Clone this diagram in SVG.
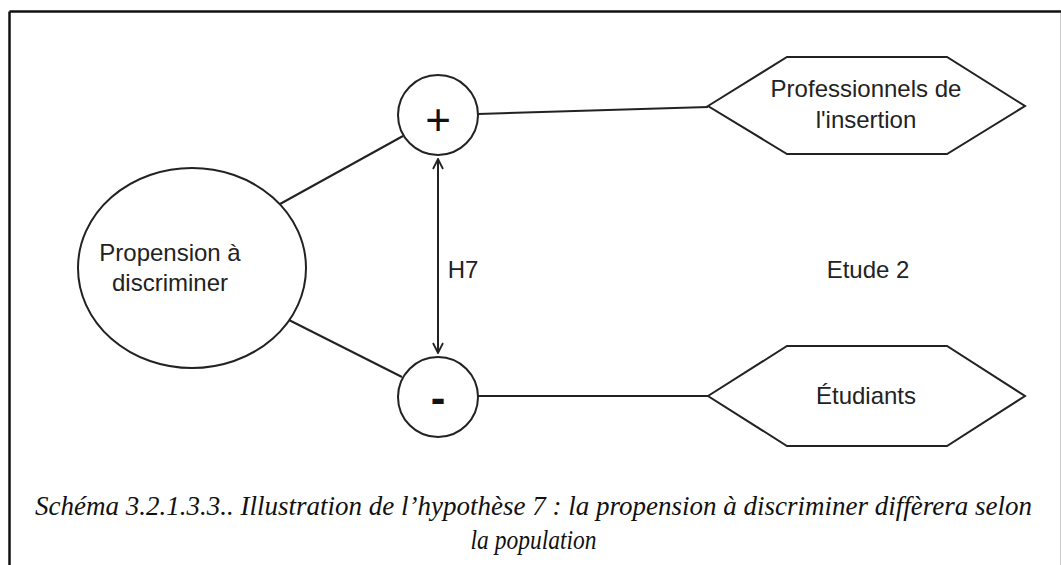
<svg xmlns="http://www.w3.org/2000/svg" width="1061" height="565" viewBox="0 0 1061 565">
<defs>
<style>
.shape{fill:#fff;stroke:#222;stroke-width:2}
.conn{fill:none;stroke:#222;stroke-width:2}
.lbl{font-family:"Liberation Sans",Arial,sans-serif;font-size:24px;fill:#222;text-anchor:middle}
.sign{font-family:"Liberation Sans",Arial,sans-serif;font-size:44px;fill:#111;text-anchor:middle}
.cap{font-family:"Liberation Serif","Times New Roman",serif;font-style:italic;font-size:28px;fill:#111;text-anchor:middle}
</style>
<marker id="open" viewBox="0 0 12 12" refX="11" refY="6" markerWidth="12" markerHeight="12" markerUnits="userSpaceOnUse" orient="auto-start-reverse">
<path d="M1,1 L11,6 L1,11" fill="none" stroke="#222" stroke-width="1.8"/>
</marker>
</defs>
<rect x="0" y="0" width="1061" height="565" fill="#fff"/>
<g id="frame">
<line x1="9.5" y1="11.5" x2="1061" y2="11.5" stroke="#111" stroke-width="2.5"/>
<line x1="9.5" y1="11.5" x2="9.5" y2="565" stroke="#111" stroke-width="2.5"/>
<line x1="1060.5" y1="13" x2="1060.5" y2="565" stroke="#ccc" stroke-width="1"/>
</g>
<g id="connectors">
<line class="conn" x1="280" y1="204" x2="403" y2="136"/>
<line class="conn" x1="285" y1="318" x2="402" y2="377"/>
<line class="conn" x1="478" y1="114" x2="708" y2="107"/>
<line class="conn" x1="478" y1="396" x2="708" y2="396"/>
<line class="conn" x1="438" y1="159" x2="438" y2="353" marker-start="url(#open)" marker-end="url(#open)"/>
<text class="lbl" x="463" y="278">H7</text>
</g>
<g id="propension">
<ellipse class="shape" cx="192" cy="268" rx="114" ry="100"/>
<text class="lbl" x="170" y="261">Propension à</text>
<text class="lbl" x="170" y="291">discriminer</text>
</g>
<g id="plus">
<circle class="shape" cx="438" cy="115" r="40"/>
<text class="sign" x="438" y="135">+</text>
</g>
<g id="minus">
<circle class="shape" cx="438" cy="397" r="40"/>
<text class="sign" x="438" y="413" font-weight="bold">-</text>
</g>
<g id="professionnels">
<polygon class="shape" points="708,106 787,57 947,57 1025,106 947,154 787,154"/>
<text class="lbl" x="866" y="97">Professionnels de</text>
<text class="lbl" x="866" y="128">l'insertion</text>
</g>
<g id="etudiants">
<polygon class="shape" points="708,396 787,346 947,346 1025,396 947,446 787,446"/>
<text class="lbl" x="866" y="404">Étudiants</text>
</g>
<g id="etude2">
<text class="lbl" x="868" y="278">Etude 2</text>
</g>
<g id="caption" transform="translate(533.5,0) scale(0.84,1)">
<text class="cap" x="0" y="515" textLength="1187" lengthAdjust="spacingAndGlyphs">Schéma 3.2.1.3.3.. Illustration de l’hypothèse 7 : la propension à discriminer diffèrera selon</text>
<text class="cap" x="0" y="549">la population</text>
</g>
</svg>
